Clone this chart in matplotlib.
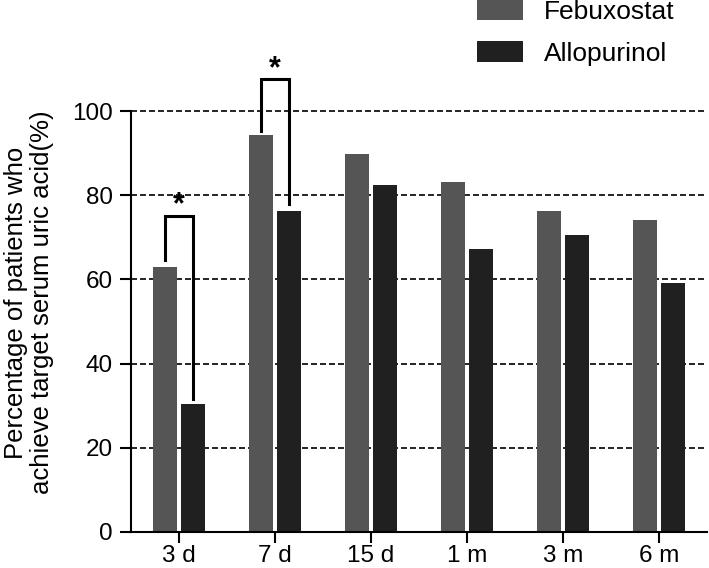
import numpy as np
import matplotlib
matplotlib.use("Agg")
import matplotlib.pyplot as plt

plt.rcParams['font.family'] = ['Liberation Sans', 'DejaVu Sans']

# values
periods = ["3 d", "7 d", "15 d", "1 m", "3 m", "6 m"]
febuxostat = [63.0, 94.3, 89.8, 83.2, 76.2, 74.2]
allopurinol = [30.4, 76.3, 82.4, 67.3, 70.6, 59.1]
grid_levels = [20, 40, 60, 80, 100]
# significance brackets: (group index, top, left leg end, right leg end)
sig = [(0, 75.0, 64.5, 31.5), (1, 107.5, 95.3, 77.8)]

x = np.arange(len(periods))
w = 0.245
off = 0.148

fig = plt.figure(figsize=(7.09, 5.68), dpi=100)
ax = fig.add_axes([131/709, 36/568, 576/709, 421/568])

for g in grid_levels:
    ax.axhline(g, color='black', lw=1.2, dashes=(3.6, 1.8), zorder=0, clip_on=False)

ax.bar(x - off, febuxostat, w, color='#555555', label='Febuxostat', zorder=2)
ax.bar(x + off, allopurinol, w, color='#202020', label='Allopurinol', zorder=2)

for i, top, yl, yr in sig:
    xl, xr = x[i] - off, x[i] + off
    ax.plot([xl, xl, xr, xr], [yl, top, top, yr], color='black', lw=2.2,
            solid_joinstyle='miter', clip_on=False, zorder=3)
    ax.text(x[i], top + 2.5, '*', ha='center', va='center', fontsize=22,
            fontweight='bold', clip_on=False)

ax.set_xlim(-0.5, 5.5)
ax.set_ylim(0, 100)
ax.set_xticks(x)
ax.set_xticklabels(periods)
ax.set_yticks([0, 20, 40, 60, 80, 100])
ax.tick_params(axis='both', length=8, width=1.5, labelsize=17.5, direction='out')
ax.tick_params(axis='y', pad=5)
ax.tick_params(axis='x', pad=1.5)
for s in ['top', 'right']:
    ax.spines[s].set_visible(False)
for s in ['left', 'bottom']:
    ax.spines[s].set_linewidth(1.5)

ax.set_ylabel("Percentage of patients who\nachieve target serum uric acid(%)",
              fontsize=18.5, linespacing=1.1)
ax.yaxis.set_label_coords(-0.133, 0.545)

fig.legend(loc='upper left', bbox_to_anchor=(477/709, 1.0), frameon=False,
           fontsize=19, handlelength=1.75, handleheight=0.8, handletextpad=0.8,
           labelspacing=0.65, borderpad=0, borderaxespad=0)

fig.savefig("out.png", dpi=100)
